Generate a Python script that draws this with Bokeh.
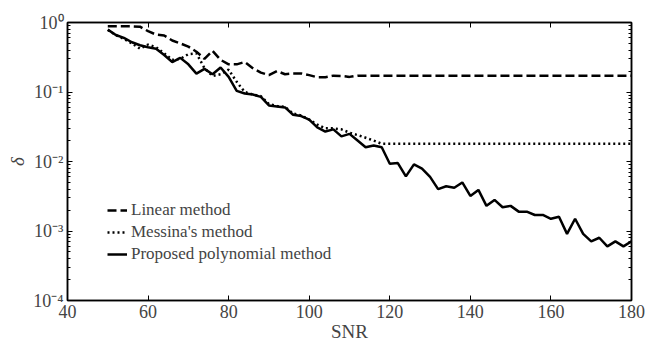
from bokeh.plotting import figure
from bokeh.models import (LinearAxis, LogAxis, FixedTicker, LogTicker, CustomJSTickFormatter,
                          Legend, LegendItem, Range1d)
from bokeh.embed import file_html
from bokeh.resources import INLINE

snr = list(range(50, 182, 2))

linear = [0.88, 0.88, 0.88, 0.88, 0.87, 0.75, 0.67, 0.65, 0.55, 0.50,
          0.45, 0.38, 0.30, 0.39, 0.29, 0.25, 0.25, 0.27, 0.22, 0.19,
          0.175, 0.20, 0.18, 0.185, 0.185, 0.175, 0.163, 0.163, 0.172, 0.17,
          0.165] + [0.172] * 35

messina = [0.78, 0.66, 0.58, 0.50, 0.42, 0.48, 0.44, 0.36, 0.29, 0.30,
           0.35, 0.36, 0.22, 0.17, 0.18, 0.21, 0.14, 0.10, 0.092, 0.087,
           0.067, 0.063, 0.061, 0.049, 0.046, 0.040, 0.034, 0.030, 0.030, 0.029,
           0.026, 0.024, 0.022, 0.020, 0.018] + [0.018] * 31

proposed = [0.79, 0.66, 0.60, 0.52, 0.47, 0.44, 0.42, 0.34, 0.27, 0.31,
            0.25, 0.184, 0.215, 0.18, 0.225, 0.165, 0.104, 0.095, 0.092, 0.085,
            0.064, 0.062, 0.060, 0.047, 0.045, 0.040, 0.031, 0.027, 0.029, 0.023,
            0.025, 0.020, 0.016, 0.017, 0.016, 0.0093, 0.0095, 0.0061, 0.0091, 0.0079,
            0.0060, 0.0040, 0.0044, 0.0042, 0.0050, 0.0032, 0.0039, 0.0023, 0.0028, 0.0022,
            0.0023, 0.0019, 0.0019, 0.0017, 0.0017, 0.0015, 0.0016, 0.00091, 0.0015, 0.00091,
            0.00071, 0.0008, 0.0006, 0.00071, 0.0006, 0.00071]

x_ticks = [40, 60, 80, 100, 120, 140, 160, 180]
labels = ["Linear method", "Messina's method", "Proposed polynomial method"]

FONT = "'Liberation Serif', serif"

p = figure(width=648, height=351, y_axis_type="log", output_backend="svg",
           toolbar_location=None, x_range=Range1d(40, 180), y_range=Range1d(1e-4, 1),
           min_border_left=67, min_border_right=17, min_border_top=22, min_border_bottom=51,
           x_axis_location=None, y_axis_location=None)
p.grid.visible = False
p.outline_line_color = "black"
p.outline_line_width = 1.5
p.background_fill_color = "white"
p.border_fill_color = "white"

fmt = CustomJSTickFormatter(code="""
const sup = {'0':'\u2070','1':'\u00b9','2':'\u00b2','3':'\u00b3','4':'\u2074','-':'\u207b'};
const e = Math.round(Math.log10(tick)).toString();
return '10' + e.split('').map(c => sup[c]).join('');
""")

def style_axis(ax, show):
    ax.axis_line_color = "black"
    ax.axis_line_width = 1.5
    ax.major_tick_in = 5
    ax.major_tick_out = 0
    ax.minor_tick_in = 3
    ax.minor_tick_out = 0
    ax.major_label_text_font = FONT
    ax.major_label_text_font_size = "18px" if show else "0px"
    ax.major_label_standoff = 4 if show else 0
    ax.axis_label_text_font = FONT
    ax.axis_label_text_font_size = "19px"
    ax.axis_label_text_font_style = "normal"

xb = LinearAxis(ticker=FixedTicker(ticks=x_ticks), axis_label="SNR", axis_label_standoff=0)
xt = LinearAxis(ticker=FixedTicker(ticks=x_ticks))
yl = LogAxis(ticker=LogTicker(num_minor_ticks=10), formatter=fmt, axis_label="\u03b4",
             axis_label_standoff=2)
yr = LogAxis(ticker=LogTicker(num_minor_ticks=10))
for ax, show in [(xb, True), (xt, False), (yl, True), (yr, False)]:
    style_axis(ax, show)
xt.major_label_text_color = None
yr.major_label_text_color = None
yl.axis_label_text_font_style = "italic"
p.add_layout(xb, "below")
p.add_layout(xt, "above")
p.add_layout(yl, "left")
p.add_layout(yr, "right")

r1 = p.line(snr, linear, line_color="black", line_width=2.5, line_dash="9 4")
r2 = p.line(snr, messina, line_color="black", line_width=2.5, line_dash="2 3")
r3 = p.line(snr, proposed, line_color="black", line_width=2.5)

legend = Legend(items=[LegendItem(label=labels[0], renderers=[r1]),
                       LegendItem(label=labels[1], renderers=[r2]),
                       LegendItem(label=labels[2], renderers=[r3])],
                location=(40, 36), border_line_alpha=0, background_fill_alpha=0,
                padding=0, spacing=2, glyph_width=20, glyph_height=20, label_height=20,
                label_standoff=4, label_text_font=FONT, label_text_font_size="17px",
                margin=0)
p.add_layout(legend, "center")

open("out.html", "w").write(file_html(p, INLINE))
